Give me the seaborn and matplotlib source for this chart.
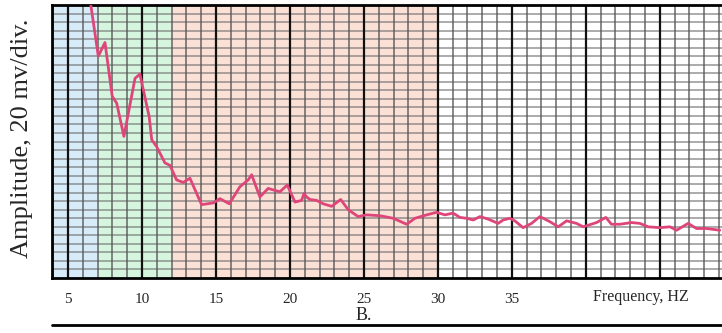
import numpy as np
import pandas as pd
import matplotlib
matplotlib.use("Agg")
import matplotlib.pyplot as plt
import seaborn as sns
from matplotlib.lines import Line2D

# Data (frequency in Hz, amplitude in grid divisions)
freq = [6.39, 7.05, 7.50, 7.99, 8.29, 8.78, 9.53, 9.86, 10.49, 10.66, 10.99, 11.55,
        11.89, 12.34, 12.79, 13.24, 14.03, 14.82, 15.27, 15.90, 16.62, 17.18, 17.41,
        17.97, 18.53, 19.32, 19.82, 20.34, 20.79, 20.95, 21.13, 21.35, 21.80, 22.25,
        22.82, 23.43, 23.94, 24.61, 25.18, 26.08, 26.98, 27.89, 28.45, 29.24, 29.91,
        30.47, 31.03, 31.49, 31.94, 32.39, 32.84, 33.40, 34.07, 34.41, 34.86, 35.20,
        35.76, 36.33, 36.89, 37.57, 38.13, 38.70, 39.37, 39.82, 40.72, 41.35, 41.73,
        42.30, 43.09, 43.65, 44.21, 45.00, 45.68, 46.13, 46.91, 47.48, 48.15, 49.05]
amplitude = [33.8, 26.0, 27.6, 21.3, 20.5, 16.6, 23.4, 23.9, 18.9, 16.2, 15.4, 13.5,
             13.2, 11.5, 11.2, 11.7, 8.6, 8.8, 9.3, 8.7, 10.7, 11.5, 12.1,
             9.5, 10.5, 10.1, 10.9, 8.9, 9.1, 9.9, 9.5, 9.2, 9.1, 8.7,
             8.4, 9.2, 8.0, 7.2, 7.4, 7.3, 7.0, 6.3, 7.0, 7.4, 7.7,
             7.4, 7.6, 7.1, 7.0, 6.8, 7.2, 6.9, 6.4, 6.8, 7.0, 6.7,
             5.9, 6.4, 7.2, 6.6, 6.0, 6.7, 6.4, 6.0, 6.5, 7.1, 6.3,
             6.3, 6.5, 6.4, 6.0, 5.9, 6.0, 5.6, 6.4, 5.8, 5.8, 5.6]

tick_values = [5, 10, 15, 20, 25, 30, 35]
tick_labels = ["5", "10", "15", "20", "25", "30", "35"]
band_edges = [7, 12, 30]
band_colors = ["#d8ebf9", "#d6f5df", "#fbe0d6"]

df = pd.DataFrame({"freq": freq, "amp": amplitude})

sns.set_style("white")
plt.rcParams["font.family"] = ["Liberation Serif", "DejaVu Serif"]

fig = plt.figure(figsize=(7.22, 3.33), dpi=100)
ax = fig.add_axes([52 / 722, 55 / 333, 670 / 722, 273 / 333])

xmin, xmax = 3.92, 49.2
ymin, ymax = 0, 32

# shaded frequency bands
ax.axvspan(xmin, band_edges[0], color=band_colors[0], lw=0, zorder=0)
ax.axvspan(band_edges[0], band_edges[1], color=band_colors[1], lw=0, zorder=0)
ax.axvspan(band_edges[1], band_edges[2], color=band_colors[2], lw=0, zorder=0)

# grid
for yv in np.arange(1, ymax, 1):
    ax.axhline(yv, color="#6a6a6a", lw=1.3, alpha=0.6, zorder=1)
for xv in range(4, 50):
    if xv % 5 == 0:
        ax.axvline(xv, color="#111111", lw=1.6, zorder=2)
    else:
        ax.axvline(xv, color="#555555", lw=1.4, alpha=0.7, zorder=1)

sns.lineplot(data=df, x="freq", y="amp", ax=ax, color="#de4679", lw=2.0,
             zorder=3, estimator=None, sort=False)

ax.set_xlim(xmin, xmax)
ax.set_ylim(ymin, ymax)
ax.set_xticks(tick_values)
ax.set_xticklabels(tick_labels, fontsize=11)
ax.set_yticks([])
ax.tick_params(axis="x", length=0, pad=11)
ax.set_xlabel("")
ax.set_ylabel("")

for side in ["left", "bottom", "top"]:
    ax.spines[side].set_color("black")
    ax.spines[side].set_linewidth(2)
    ax.spines[side].set_visible(True)
ax.spines["right"].set_visible(False)

fig.text(22 / 722, 1 - 138 / 333, "Amplitude, 20 mv/div.", rotation=90,
         ha="center", va="center", fontsize=19)
ax.text(43.7, -0.07, "Frequency, HZ", transform=ax.get_xaxis_transform(),
        ha="center", va="center", fontsize=11.5)
fig.text(364 / 722, 1 - 316 / 333, "B.", ha="center", va="center", fontsize=13)
fig.add_artist(Line2D([52 / 722, 1.0], [1 - 325 / 333, 1 - 325 / 333],
                      color="black", lw=2, transform=fig.transFigure))

fig.savefig("out.png", dpi=100)
